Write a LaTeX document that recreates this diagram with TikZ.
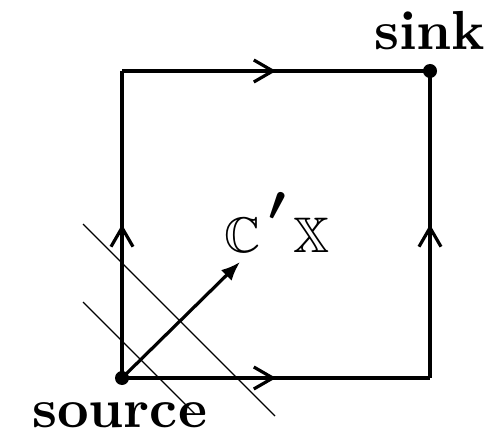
\documentclass[tikz,border=0pt]{standalone}
\usepackage{amsmath,amssymb}
\usetikzlibrary{arrows.meta,decorations.markings}
\begin{document}
\begin{tikzpicture}[x=1pt,y=1pt,
  thickline/.style={line width=3.2pt},
  midarrow/.style={thickline, postaction={decorate},
    decoration={markings, mark=at position 0.5 with {\arrow{Straight Barb[length=19pt,width=22pt,line width=3.2pt]}}}},
  dot/.style={circle, fill=black, inner sep=0pt, minimum size=14pt},
  thinline/.style={line width=1.2pt},
  biglabel/.style={font=\bfseries, scale=5.5, inner sep=0pt, anchor=base west},
  mathlabel/.style={scale=5, inner sep=0pt, anchor=base west}]
\useasboundingbox (0,0) rectangle (486,439);
\coordinate (tl) at (122,368);
\coordinate (br) at (430,61);
\coordinate (a1) at (83,215);
\coordinate (a2) at (275,23);
\coordinate (b1) at (83,137);
\coordinate (b2) at (195,25);
\coordinate (tip) at (240,177);
\node[dot] (source) at (122,61) {};
\node[dot] (sink) at (430,368) {};
\draw[thinline] (a1) -- (a2);
\draw[thinline] (b1) -- (b2);
\draw[midarrow] (source.center) -- (tl);
\draw[midarrow] (tl) -- (sink.center);
\draw[midarrow] (source.center) -- (br);
\draw[midarrow] (br) -- (sink.center);
\draw[thickline, -{Latex[length=19pt,width=15pt]}] (source.center) -- (tip);
\node[biglabel] (srclabel) at (31,12) {source};
\node[biglabel] (sinklabel) at (373,389) {sink};
\node[mathlabel] (clabel) at (223,187) {$\mathbb{C}\kern1.6pt\raise2.6pt\hbox{$^{\textstyle\boldsymbol{\prime}}$}$};
\node[mathlabel] (xlabel) at (292,187) {$\mathbb{X}$};
\end{tikzpicture}
\end{document}
